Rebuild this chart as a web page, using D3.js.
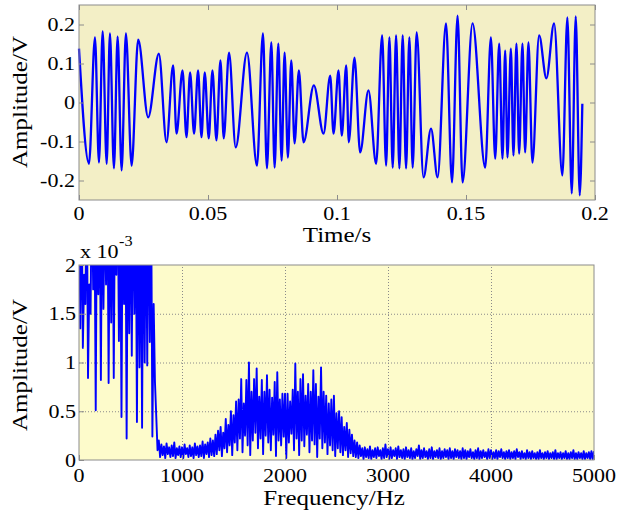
<!DOCTYPE html>
<html><head><meta charset="utf-8">
<script src="https://cdn.jsdelivr.net/npm/d3@7"></script>
<style>
html,body{margin:0;padding:0;background:#fff;}
svg{display:block;font-family:"Liberation Serif","Times New Roman",serif;}
</style>
</head><body>
<svg id="c" width="618" height="512"></svg>
<script>
// ---------- data ----------
const timeS = [
0.0000,0.00387,0.00619,0.00774,0.00917,0.01072,0.01199,0.01354,0.01497,0.01652,
0.01818,0.02039,0.02294,0.02681,0.03095,0.03393,0.03648,0.03780,0.04012,0.04166,
0.04306,0.04460,0.04615,0.04747,0.04874,0.05029,0.05172,0.05327,0.05482,0.05609,
0.05814,0.06074,0.06511,0.06898,0.07130,0.07284,0.07455,0.07582,0.07725,0.07853,
0.07969,0.08097,0.08228,0.08356,0.08522,0.08704,0.09103,0.09478,0.09737,0.09865,
0.10058,0.10186,0.10356,0.10457,0.10677,0.10898,0.11219,0.11517,0.11749,0.11903,
0.12031,0.12159,0.12290,0.12418,0.12546,0.12677,0.12805,0.12933,0.13087,0.13354,
0.13644,0.13900,0.14225,0.14457,0.14673,0.14867,0.15254,0.15745,0.15965,0.16132,
0.16286,0.16414,0.16518,0.16607,0.16739,0.16839,0.16955,0.17060,0.17188,0.17292,
0.17420,0.17575,0.17834,0.18116,0.18414,0.18735,0.18929,0.19099,0.19253,0.19408,
0.19509];
const timeV = [
0.138,-0.157,0.167,-0.154,0.182,-0.157,0.177,-0.169,0.169,-0.174,
0.177,-0.162,0.161,-0.038,0.125,-0.102,0.095,-0.080,0.082,-0.089,
0.077,-0.080,0.082,-0.089,0.077,-0.092,0.082,-0.097,0.108,-0.092,
0.128,-0.115,0.128,-0.162,0.177,-0.169,0.154,-0.167,0.151,-0.149,
0.128,-0.141,0.108,-0.105,0.082,-0.102,0.044,-0.080,0.069,-0.080,
0.082,-0.085,0.095,-0.102,0.115,-0.128,0.031,-0.157,0.172,-0.162,
0.167,-0.167,0.172,-0.169,0.172,-0.169,0.167,-0.167,0.180,-0.192,
-0.067,-0.192,0.203,-0.205,0.223,-0.205,0.203,-0.167,0.167,-0.144,
0.151,-0.144,0.133,-0.141,0.138,-0.136,0.151,-0.131,0.151,-0.128,
0.154,-0.154,0.172,0.062,0.203,-0.187,0.218,-0.233,0.221,-0.238,
-0.003];

const timeTicks = [0, 0.05, 0.1, 0.15, 0.2];
const timeTickLabels = ["0", "0.05", "0.1", "0.15", "0.2"];
const ampTicks = [-0.2, -0.1, 0, 0.1, 0.2];
const ampTickLabels = ["-0.2", "-0.1", "0", "0.1", "0.2"];
const freqTicks = [0, 1000, 2000, 3000, 4000, 5000];
const freqTickLabels = ["0", "1000", "2000", "3000", "4000", "5000"];
const specTicks = [0, 0.5, 1, 1.5, 2];
const specTickLabels = ["0", "0.5", "1", "1.5", "2"];

// spectrum, amplitude in units of 1e-3 V, one peak and one dip per 25 Hz bin
const specBinHz = 25;
const specPeak = [
3.0,2.8,1.9,3.0,1.8,3.0,2.6,3.0,2.9,3.0,2.7,3.0,2.8,3.0,2.9,3.0,2.7,3.0,2.9,3.0,
2.8,3.0,2.9,3.0,2.7,3.0,2.9,3.0,2.8,1.6,0.45,0.2,0.16,0.14,0.17,0.13,0.15,0.18,0.12,0.14,
0.13,0.16,0.12,0.15,0.13,0.17,0.14,0.15,0.19,0.16,0.18,0.22,0.2,0.26,0.3,0.34,0.28,0.42,0.36,0.5,
0.46,0.6,0.62,0.83,0.58,0.82,1.0,0.7,0.83,0.94,0.65,0.82,0.7,0.87,0.72,0.64,0.8,0.9,0.62,0.68,
0.68,0.68,0.6,0.72,0.99,0.7,0.83,0.88,0.66,0.78,0.7,0.92,0.78,0.65,0.95,0.7,0.66,0.58,0.62,0.66,
0.48,0.5,0.44,0.34,0.38,0.31,0.26,0.2,0.18,0.15,0.12,0.13,0.11,0.14,0.1,0.12,0.13,0.1,0.12,0.16,
0.11,0.13,0.1,0.12,0.14,0.1,0.11,0.13,0.1,0.12,0.09,0.11,0.15,0.1,0.12,0.09,0.11,0.13,0.09,0.1,
0.12,0.09,0.11,0.1,0.12,0.09,0.11,0.1,0.09,0.12,0.1,0.09,0.11,0.08,0.1,0.12,0.09,0.1,0.08,0.11,
0.1,0.08,0.1,0.09,0.11,0.08,0.09,0.1,0.08,0.09,0.11,0.08,0.09,0.07,0.1,0.08,0.09,0.07,0.08,0.1,
0.07,0.08,0.09,0.07,0.08,0.1,0.07,0.08,0.07,0.09,0.07,0.08,0.1,0.07,0.08,0.07,0.09,0.07,0.08,0.09];
const specDip = [
1.35,1.15,1.6,0.84,1.5,1.75,0.51,1.7,0.82,1.55,1.8,0.79,1.41,0.84,1.9,1.22,0.44,1.6,0.22,1.3,
1.07,1.5,0.39,0.95,0.33,1.0,0.97,1.21,0.24,0.8,0.1,0.03,0.05,0.02,0.06,0.03,0.04,0.02,0.05,0.03,
0.02,0.06,0.03,0.04,0.02,0.05,0.03,0.04,0.02,0.06,0.03,0.05,0.04,0.06,0.1,0.04,0.12,0.08,0.15,0.05,
0.18,0.1,0.22,0.08,0.25,0.15,0.05,0.2,0.28,0.12,0.22,0.06,0.25,0.18,0.1,0.26,0.04,0.2,0.15,0.24,
0.02,0.18,0.27,0.1,0.22,0.05,0.2,0.14,0.26,0.08,0.2,0.16,0.03,0.22,0.12,0.18,0.06,0.15,0.1,0.04,
0.12,0.08,0.05,0.1,0.03,0.07,0.04,0.03,0.02,0.04,0.01,0.03,0.02,0.01,0.03,0.02,0.04,0.01,0.02,0.03,
0.01,0.02,0.04,0.01,0.03,0.02,0.01,0.03,0.02,0.01,0.02,0.04,0.01,0.02,0.03,0.01,0.02,0.01,0.03,0.02,
0.01,0.02,0.03,0.01,0.02,0.01,0.03,0.02,0.01,0.02,0.01,0.03,0.02,0.01,0.02,0.01,0.02,0.03,0.01,0.02,
0.01,0.02,0.01,0.03,0.02,0.01,0.02,0.01,0.02,0.01,0.03,0.01,0.02,0.01,0.02,0.01,0.02,0.01,0.01,0.02,
0.01,0.02,0.01,0.02,0.01,0.01,0.02,0.01,0.02,0.01,0.01,0.02,0.01,0.01,0.02,0.01,0.01,0.02,0.01,0.01];

// ---------- drawing ----------
const svg = d3.select("#c");
const frameCol = "#8c8c8c";
const blue = "#0000ff";
const tickFont = 19, tickStretch = 1.16;
const labFont = 20, labStretch = 1.25;

function textAt(g, x, y, str, size, stretch, anchor, rot) {
  g.append("text")
    .attr("transform", `translate(${x},${y})` + (rot ? ` rotate(${rot})` : "") + ` scale(${stretch},1)`)
    .attr("text-anchor", anchor)
    .attr("font-size", size)
    .attr("fill", "#000")
    .text(str);
}

// ===== top panel =====
const T = {l: 79, r: 595, t: 5, b: 200};
const x1 = d3.scaleLinear().domain([0, 0.2]).range([T.l, T.r]);
const y1 = d3.scaleLinear().domain([-0.25, 0.25]).range([T.b, T.t]);
const g1 = svg.append("g");
g1.append("rect").attr("x", T.l).attr("y", T.t).attr("width", T.r - T.l).attr("height", T.b - T.t)
  .attr("fill", "#f3efc6");

const pts1 = timeS.map((t, i) => [x1(t), y1(timeV[i])]);
g1.append("path").attr("d", d3.line().curve(d3.curveMonotoneX)(pts1))
  .attr("fill", "none").attr("stroke", blue).attr("stroke-width", 2.3).attr("stroke-linejoin", "round");

function styleAxis(sel) {
  sel.select(".domain").remove();
  sel.selectAll(".tick line").attr("stroke", frameCol);
}
g1.append("g").attr("transform", `translate(0,${T.b})`)
  .call(d3.axisBottom(x1).tickValues(timeTicks).tickSize(-5).tickFormat("")).call(styleAxis);
g1.append("g").attr("transform", `translate(0,${T.t})`)
  .call(d3.axisTop(x1).tickValues(timeTicks).tickSize(-5).tickFormat("")).call(styleAxis);
g1.append("g").attr("transform", `translate(${T.l},0)`)
  .call(d3.axisLeft(y1).tickValues(ampTicks).tickSize(-5).tickFormat("")).call(styleAxis);
g1.append("g").attr("transform", `translate(${T.r},0)`)
  .call(d3.axisRight(y1).tickValues(ampTicks).tickSize(-5).tickFormat("")).call(styleAxis);
g1.append("rect").attr("x", T.l).attr("y", T.t).attr("width", T.r - T.l).attr("height", T.b - T.t)
  .attr("fill", "none").attr("stroke", frameCol).attr("stroke-width", 1);

timeTicks.forEach((v, i) => textAt(g1, x1(v), 220, timeTickLabels[i], tickFont, tickStretch, "middle"));
ampTicks.forEach((v, i) => textAt(g1, 75, y1(v) + 6.5, ampTickLabels[i], tickFont, tickStretch, "end"));
textAt(g1, 337, 242, "Time/s", labFont, labStretch, "middle");
textAt(g1, 27, 102, "Amplitude/V", labFont, labStretch, "middle", -90);

// ===== bottom panel =====
const B = {l: 79, r: 594, t: 265, b: 460};
const x2 = d3.scaleLinear().domain([0, 5000]).range([B.l, B.r]);
const y2 = d3.scaleLinear().domain([0, 2]).range([B.b, B.t]);
const g2 = svg.append("g");
g2.append("rect").attr("x", B.l).attr("y", B.t).attr("width", B.r - B.l).attr("height", B.b - B.t)
  .attr("fill", "#fdfbcb");

// grid (dotted)
g2.append("g").attr("transform", `translate(0,${B.b})`)
  .call(d3.axisBottom(x2).tickValues(freqTicks.slice(1, -1)).tickSize(-(B.b - B.t)).tickFormat(""))
  .call(s => { s.select(".domain").remove(); s.selectAll(".tick line").attr("stroke", "#8a8a8a").attr("stroke-dasharray", "1,2"); });
g2.append("g").attr("transform", `translate(${B.l},0)`)
  .call(d3.axisLeft(y2).tickValues(specTicks.slice(1, -1)).tickSize(-(B.r - B.l)).tickFormat(""))
  .call(s => { s.select(".domain").remove(); s.selectAll(".tick line").attr("stroke", "#8a8a8a").attr("stroke-dasharray", "1,2"); });

svg.append("defs").append("clipPath").attr("id", "clipB")
  .append("rect").attr("x", B.l).attr("y", B.t).attr("width", B.r - B.l).attr("height", B.b - B.t);

const pts2 = [];
specPeak.forEach((p, i) => {
  const f = i * specBinHz;
  pts2.push([x2(f), y2(p)]);
  pts2.push([x2(f + specBinHz / 2), y2(specDip[i])]);
});
pts2.push([x2(5000), y2(specPeak[specPeak.length - 1])]);
g2.append("path").attr("clip-path", "url(#clipB)")
  .attr("d", d3.line()(pts2))
  .attr("fill", "none").attr("stroke", blue).attr("stroke-width", 1.9).attr("stroke-linejoin", "round");

g2.append("g").attr("transform", `translate(0,${B.b})`)
  .call(d3.axisBottom(x2).tickValues(freqTicks).tickSize(-5).tickFormat("")).call(styleAxis);
g2.append("g").attr("transform", `translate(${B.l},0)`)
  .call(d3.axisLeft(y2).tickValues(specTicks).tickSize(-5).tickFormat("")).call(styleAxis);
g2.append("rect").attr("x", B.l).attr("y", B.t).attr("width", B.r - B.l).attr("height", B.b - B.t)
  .attr("fill", "none").attr("stroke", frameCol).attr("stroke-width", 1);

freqTicks.forEach((v, i) => textAt(g2, x2(v), 482, freqTickLabels[i], tickFont, tickStretch, "middle"));
specTicks.forEach((v, i) => textAt(g2, 76, y2(v) + 6.5, specTickLabels[i], tickFont, tickStretch, "end"));
textAt(g2, 334, 505, "Frequency/Hz", labFont, labStretch, "middle");
textAt(g2, 27, 365, "Amplitude/V", labFont, labStretch, "middle", -90);
textAt(g2, 80, 258, "x 10", tickFont, tickStretch, "start");
textAt(g2, 119, 246, "-3", 14, tickStretch, "start");
</script>
</body></html>
